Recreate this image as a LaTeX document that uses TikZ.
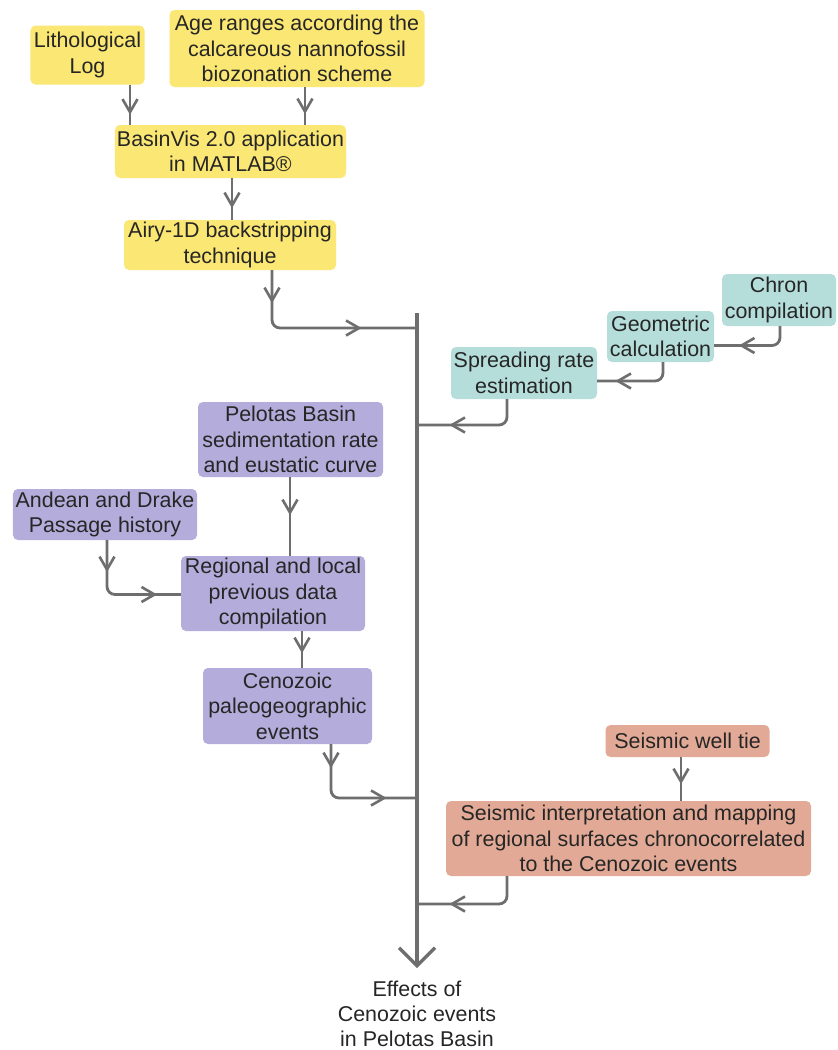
\documentclass[tikz,border=0pt]{standalone}
\usepackage{fontspec}
\setmainfont{Liberation Sans}
\usetikzlibrary{arrows.meta,decorations.markings}
\definecolor{cyel}{HTML}{FBE774}
\definecolor{cteal}{HTML}{B5DEDB}
\definecolor{cpur}{HTML}{B4ACDA}
\definecolor{corg}{HTML}{E2AA96}
\definecolor{cline}{HTML}{6E6E6E}
\definecolor{ctext}{HTML}{262626}
\tikzset{
  box/.style={rounded corners=5bp, draw=none, align=center, inner sep=0pt,
    font=\fontsize{21.5}{25.5}\selectfont, text=ctext},
  ybox/.style={box, fill=cyel},
  tbox/.style={box, fill=cteal},
  pbox/.style={box, fill=cpur},
  obox/.style={box, fill=corg},
  conn/.style={draw=cline, line width=2.8bp, rounded corners=8bp},
  am/.style={postaction={decorate},
    decoration={markings, mark=at position #1 with {\arrow[cline]{Straight Barb[length=13bp,width=15bp,line width=2.6bp]}}}},
  amm/.style 2 args={postaction={decorate},
    decoration={markings,
      mark=at position #1 with {\arrow[cline]{Straight Barb[length=13bp,width=15bp,line width=2.6bp]}},
      mark=at position #2 with {\arrow[cline]{Straight Barb[length=13bp,width=15bp,line width=2.6bp]}}}},
}
\begin{document}
\begin{tikzpicture}[x=1bp,y=-1bp]
\fill[white] (0,0) rectangle (838,1050);
\useasboundingbox (0,0) rectangle (838,1050);

% yellow
\node[ybox, minimum width=114bp, minimum height=59bp] (litho) at (87.5,55) {Lithological\\Log};
\node[ybox, minimum width=255bp, minimum height=77bp] (age) at (297,48.5) {Age ranges according the\\calcareous nannofossil\\biozonation scheme};
\node[ybox, minimum width=231bp, minimum height=53bp] (basin) at (230.5,151.5) {BasinVis 2.0 application\\in MATLAB®};
\node[ybox, minimum width=212bp, minimum height=50bp] (airy) at (230,245) {Airy-1D backstripping\\technique};

% teal
\node[tbox, minimum width=114bp, minimum height=52bp] (chron) at (779,300) {Chron\\compilation};
\node[tbox, minimum width=107bp, minimum height=51bp] (geom) at (660.5,336.5) {Geometric\\calculation};
\node[tbox, minimum width=146bp, minimum height=52bp] (spread) at (524,373) {Spreading rate\\estimation};

% purple
\node[pbox, minimum width=185bp, minimum height=75bp] (pelotas) at (290.5,439.5) {Pelotas Basin\\sedimentation rate\\and eustatic curve};
\node[pbox, minimum width=184bp, minimum height=51bp] (andean) at (105,514.5) {Andean and Drake\\Passage history};
\node[pbox, minimum width=184bp, minimum height=75bp] (regional) at (273,593.5) {Regional and local\\previous data\\compilation};
\node[pbox, minimum width=169bp, minimum height=76bp] (ceno) at (287.5,706) {Cenozoic\\paleogeographic\\events};

% orange
\node[obox, minimum width=164bp, minimum height=32bp] (well) at (687.5,741) {Seismic well tie};
\node[obox, minimum width=365bp, minimum height=75bp] (seis) at (628.5,838.5) {Seismic interpretation and mapping\\of regional surfaces chronocorrelated\\to the Cenozoic events};

% result
\node[align=center, inner sep=0pt, font=\fontsize{21.5}{25}\selectfont, text=ctext] (effects) at (417,1014) {Effects of\\Cenozoic events\\in Pelotas Basin};

% trunk
\coordinate (ttop) at (417,313);
\coordinate (tbot) at (417,968);
\coordinate (j1) at (417,328);
\coordinate (j2) at (417,425);
\coordinate (j3) at (417,798);
\coordinate (j4) at (417,904);
\draw[draw=cline, line width=3.4bp, -{Straight Barb[length=18bp,width=36bp,line width=3.2bp]}] (ttop) -- (tbot);

% yellow connectors
\draw[conn, am=30bp] (litho.south -| 130,0) -- (basin.north -| 130,0);
\draw[conn, am=27bp] (age.south -| 305,0) -- (basin.north -| 305,0);
\draw[conn, am=30bp] (basin.south -| 232,0) -- (airy.north -| 232,0);
\draw[conn, amm={33bp}{144bp}] (airy.south -| 272,0) |- (j1);

% teal connectors
\draw[conn, am=57bp] (chron.south -| 780,0) |- ([yshift=-9bp]geom.east);
\draw[conn, am=63bp] (geom.south -| 663,0) |- ([yshift=-8bp]spread.east);
\draw[conn, am=80bp] (spread.south -| 507,0) |- (j2);

% purple connectors
\draw[conn, am=38bp] (pelotas.south -| 290,0) -- (regional.north -| 290,0);
\draw[conn, amm={32bp}{101bp}] (andean.south -| 107,0) |- ([yshift=-1bp]regional.west);
\draw[conn, am=22bp] (regional.south -| 302,0) -- (ceno.north -| 302,0);
\draw[conn, amm={24bp}{106bp}] (ceno.south -| 331,0) |- (j3);

% orange connectors
\draw[conn, am=27bp] (well.south -| 681,0) -- (seis.north -| 681,0);
\draw[conn, am=82bp] (seis.south -| 507,0) |- (j4);
\end{tikzpicture}
\end{document}
